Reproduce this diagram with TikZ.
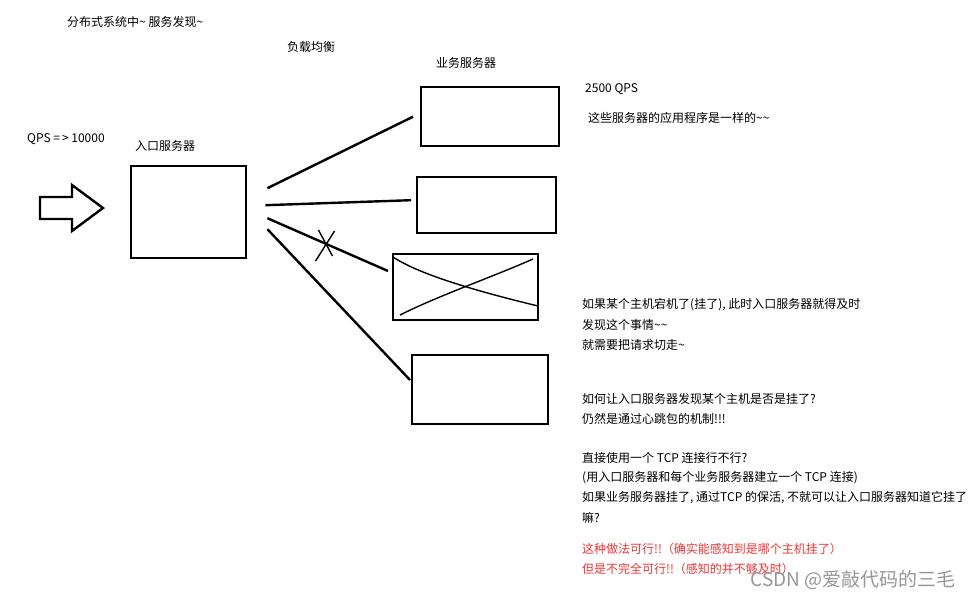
\documentclass[tikz,border=0pt]{standalone}
\usepackage{fontspec}
\setmainfont{Noto Sans CJK SC}
\definecolor{warnred}{RGB}{238,52,52}
\definecolor{markgray}{RGB}{150,150,150}
\tikzset{
  box/.style={draw,line width=2.4pt,anchor=north west,inner sep=0pt},
  link/.style={line width=2.4pt},
  scratch/.style={line width=1.4pt},
  note/.style={anchor=west,inner sep=0pt,font=\fontsize{12}{14}\selectfont},
}
\begin{document}
\begin{tikzpicture}[x=1pt,y=-1pt]
  % Pixel coordinates, y grows downwards.
  \useasboundingbox (0,0) rectangle (972,600);

  % Headings.
  \node[note] (title) at (67,22) {分布式系统中\textasciitilde{} 服务发现\textasciitilde};
  \node[note] (lb) at (287,47) {负载均衡};
  \node[note] (qps) at (27,139) {QPS =\,> 10000};
  \node[note] (entrylabel) at (135,146) {入口服务器};
  \node[note] (srvlabel) at (436,63) {业务服务器};

  % Incoming traffic.
  \draw[link] (40,197) -- (72,197) -- (72,185) -- (103,208) -- (72,231)
    -- (72,219) -- (40,219) -- cycle;

  % Entry server and business servers.
  \node[box,minimum width=115pt,minimum height=92pt] (entry) at (130,165) {};
  \node[box,minimum width=138pt,minimum height=59pt] (srvA) at (420,86) {};
  \node[box,minimum width=139pt,minimum height=56pt] (srvB) at (416,176) {};
  \node[box,minimum width=145pt,minimum height=66pt] (srvC) at (392,253) {};
  \node[box,minimum width=136pt,minimum height=69pt] (srvD) at (411,354) {};

  % Links to each server.
  \draw[link] ([shift={(20,-24)}]entry.east) -- ([xshift=-7pt]srvA.west);
  \draw[link] ([shift={(18,-7)}]entry.east) -- ([shift={(-5,-5)}]srvB.west);
  \draw[link] ([shift={(20,6)}]entry.east)
    -- coordinate[pos=0.49] (cut) ([shift={(-4,18)}]srvC.north west);
  \draw[link] ([shift={(20,17)}]entry.east) -- ([shift={(-1,26)}]srvD.north west);

  % Broken link and dead host.
  \draw[scratch] ([shift={(8,-13)}]cut) -- ([shift={(-11,17)}]cut);
  \draw[scratch] ([shift={(-8,-14)}]cut) -- ([shift={(6,12)}]cut);
  \draw[scratch] (393,257) .. controls (420,275) and (480,292) .. (538,306);
  \draw[scratch] (400,315) .. controls (440,295) and (490,278) .. (533,259);

  % Notes on the right.
  \node[note] (each) at (585,89) {2500 QPS};
  \node[note] (same) at (588,118) {这些服务器的应用程序是一样的\textasciitilde\textasciitilde};
  \foreach \txt [count=\i] in {{如果某个主机宕机了(挂了), 此时入口服务器就得及时},
      {发现这个事情\textasciitilde\textasciitilde},{就需要把请求切走\textasciitilde}}
    \node[note] (down\i) at (582,{285+20*\i}) {\txt};
  \foreach \txt [count=\i] in {{如何让入口服务器发现某个主机是否是挂了?},
      {仍然是通过心跳包的机制!!!},{},{直接使用一个 TCP 连接行不行?},
      {(用入口服务器和每个业务服务器建立一个 TCP 连接)},
      {如果业务服务器挂了, 通过TCP 的保活, 不就可以让入口服务器知道它挂了},{嘛?}}
    \node[note] (ask\i) at (582,{379+19.8*\i}) {\txt};
  \node[note,text=warnred] (okay) at (582,549) {这种做法可行!!（确实能感知到是哪个主机挂了）};
  \node[note,text=warnred] (notok) at (582,569) {但是不完全可行!!（感知的并不够及时）};

  % Watermark.
  \node[note,anchor=east,text=markgray,font=\fontsize{19}{21}\selectfont]
    (mark) at (956,580) {CSDN @爱敲代码的三毛};
\end{tikzpicture}
\end{document}
